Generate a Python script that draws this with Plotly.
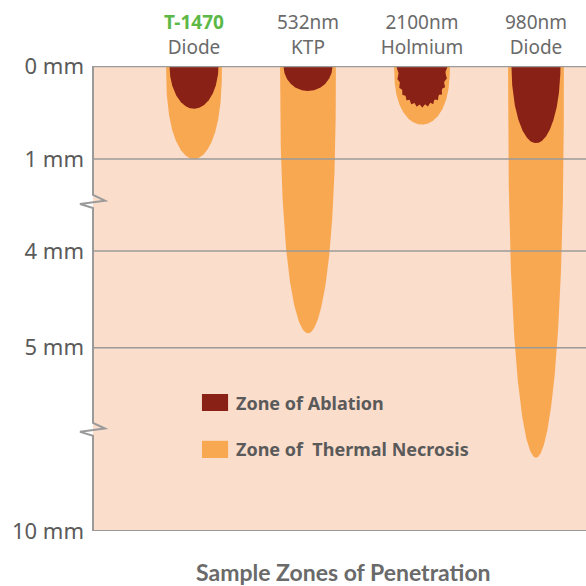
import numpy as np
import plotly.graph_objects as go

# ---------------- data ----------------
laser_names = ["T-1470", "532nm", "2100nm", "980nm"]
laser_types = ["Diode", "KTP", "Holmium", "Diode"]
thermal_depth_mm = [1.0, 4.85, 0.63, 8.0]      # zone of thermal necrosis depth
ablation_depth_mm = [0.46, 0.27, 0.43, 0.83]   # zone of ablation depth
ablation_jagged = [False, False, True, False]

# broken depth axis: real mm -> axis position
axis_mm = [0, 1, 4, 5, 10]
axis_pos = [0, 1, 1.99, 3.03, 5.0]
tick_labels = ["0 mm", "1 mm", "4 mm", "5 mm", "10 mm"]
grid_mm = [1, 4, 5]
break_pos = [1.45, 3.90]

series_names = ["Zone of Ablation", "Zone of  Thermal Necrosis"]

# ---------------- style ----------------
C_BG = "#FBDDCC"
C_THERM = "#F9A852"
C_ABL = "#8A2116"
C_GRID = "#9A9A9A"
C_TXT = "#5A5A5A"
C_HEAD = "#6A6A6A"
C_GREEN = "#5DB847"
FONT = "Noto Sans"

THERM_HW = 0.245
ABL_HW = 0.215


def to_axis(mm):
    return np.interp(mm, axis_mm, axis_pos)


def outline(cx, hw, depth, p=2.0, jag=False):
    phi = np.linspace(-np.pi / 2, np.pi / 2, 361)
    r = 1.0
    if jag:
        r = 1 + 0.04 * np.cos(28 * phi)
    xs = cx + hw * np.sin(phi) * r
    ys = depth * np.abs(np.cos(phi)) ** (2.0 / p) * r
    ys = np.clip(ys, 0, None)
    return xs, ys


xpos = list(range(len(laser_names)))

fig = go.Figure()

for i, cx in enumerate(xpos):
    xs, ys = outline(cx, THERM_HW, to_axis(thermal_depth_mm[i]), p=2.5)
    fig.add_trace(go.Scatter(x=xs, y=ys, fill="toself", mode="lines",
                             line=dict(width=0, color=C_THERM), fillcolor=C_THERM,
                             name=series_names[1], showlegend=False, hoverinfo="skip"))
for i, cx in enumerate(xpos):
    xs, ys = outline(cx, ABL_HW, to_axis(ablation_depth_mm[i]),
                     p=2.5 if ablation_jagged[i] else 2.0, jag=ablation_jagged[i])
    fig.add_trace(go.Scatter(x=xs, y=ys, fill="toself", mode="lines",
                             line=dict(width=0, color=C_ABL), fillcolor=C_ABL,
                             name=series_names[0], showlegend=False, hoverinfo="skip"))

shapes = []
# grid lines
for g in grid_mm:
    yv = float(to_axis(g))
    shapes.append(dict(type="line", xref="paper", yref="y", x0=0, x1=1, y0=yv, y1=yv,
                       line=dict(color=C_GRID, width=1.4), layer="above"))
# top and bottom borders
shapes.append(dict(type="line", xref="paper", yref="y", x0=0, x1=1, y0=0, y1=0,
                   line=dict(color=C_GRID, width=2.5), layer="above"))
yb = float(to_axis(axis_mm[-1]))
shapes.append(dict(type="line", xref="paper", yref="y", x0=0, x1=1, y0=yb, y1=yb,
                   line=dict(color=C_GRID, width=2), layer="above"))
# left border with zig-zag breaks
path = "M 0,0"
for b in break_pos:
    path += f" L 0,{b-0.063:.3f} L 0.0243,{b-0.002:.3f} L -0.0264,{b+0.034:.3f} L 0,{b+0.077:.3f}"
path += f" L 0,{yb}"
shapes.append(dict(type="path", xref="paper", yref="y", path=path,
                   line=dict(color=C_GRID, width=2), layer="above"))

# legend swatches
leg_y = [(0.2946, 0.258), (0.194, 0.157)]
leg_col = [C_ABL, C_THERM]
annotations = []
for (y1, y0), col, nm in zip(leg_y, leg_col, series_names):
    shapes.append(dict(type="rect", xref="paper", yref="paper", x0=0.221, x1=0.274,
                       y0=y0, y1=y1, fillcolor=col, line=dict(width=0)))
    annotations.append(dict(xref="paper", yref="paper", x=0.287, y=(y0 + y1) / 2,
                            xanchor="left", yanchor="middle", showarrow=False, text=nm,
                            font=dict(family=FONT, size=18, color=C_TXT, weight="bold")))

annotations.append(dict(xref="paper", yref="paper", x=0.509, y=-0.088,
                        xanchor="center", yanchor="middle", showarrow=False,
                        text="Sample Zones of Penetration",
                        font=dict(family="Lato", size=23, color=C_HEAD, weight="bold")))

tick_head = []
for i, (n, t) in enumerate(zip(laser_names, laser_types)):
    if i == 0:
        tick_head.append(f"<span style='color:{C_GREEN}'><b>{n}</b></span><br>{t}")
    else:
        tick_head.append(f"{n}<br>{t}")

fig.update_layout(
    width=586, height=586,
    margin=dict(l=93, r=0, t=66, b=55),
    paper_bgcolor="white", plot_bgcolor=C_BG,
    showlegend=False,
    shapes=shapes, annotations=annotations,
    xaxis=dict(range=[-0.886, 3.439], side="top", tickvals=xpos, ticktext=tick_head,
               showgrid=False, zeroline=False, showline=False, ticks="",
               ticklabelstandoff=7,
               tickfont=dict(family=FONT, size=19, color=C_HEAD)),
    yaxis=dict(range=[5.0, 0], tickvals=[float(v) for v in to_axis(axis_mm)],
               ticktext=tick_labels, showgrid=False, zeroline=False, showline=False,
               ticks="", ticklabelstandoff=8,
               tickfont=dict(family=FONT, size=22, color=C_TXT)),
)

fig.write_html("out.html", config={"displayModeBar": False},
               post_script="document.body.style.margin='0';document.body.style.overflow='hidden';")
